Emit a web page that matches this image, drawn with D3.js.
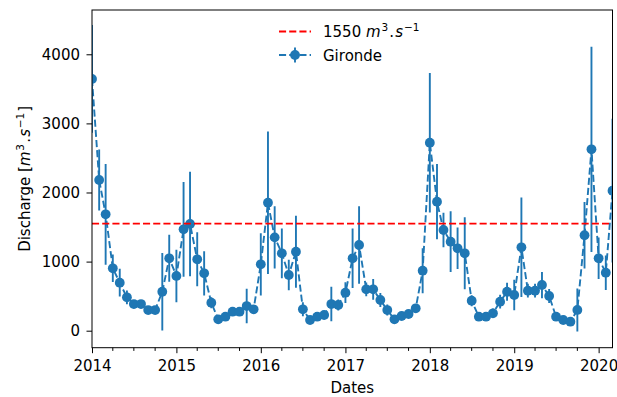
<!DOCTYPE html>
<html>
<head>
<meta charset="utf-8">
<script src="https://cdn.jsdelivr.net/npm/d3@7"></script>
<style>
  body { margin: 0; background: #fff; }
  text { font-family: "DejaVu Sans", sans-serif; fill: #000; }
</style>
</head>
<body>
<svg id="chart" width="617" height="397"></svg>
<script>
// Monthly mean discharge of the Gironde (m3/s) with its standard deviation,
// one value per month from January 2014 to March 2020.
const firstMonth = Date.UTC(2014, 0, 1);
const lastMonth = Date.UTC(2020, 2, 1);

const discharge = [
  3643, 2181, 1684, 903, 695, 483, 386, 386, 299, 299, 564, 1048,   // 2014
  792, 1467, 1544, 1033, 831, 405, 165, 203, 275, 275, 357, 310,    // 2015
  961, 1852, 1351, 1120, 806, 1143, 310, 155, 203, 227, 386, 372,   // 2016
  550, 1048, 1240, 599, 599, 444, 299, 165, 213, 242, 324, 868,     // 2017
  2721, 1867, 1457, 1288, 1192, 1120, 434, 203, 203, 252, 420, 564, // 2018
  517, 1207, 579, 579, 661, 502, 203, 155, 130, 300, 1381, 2625,    // 2019
  1048, 839, 2026                                                   // 2020
];

const spread = [
  780, 440, 730, 200, 200, 100, 60, 60, 50, 50, 560, 340,
  380, 685, 755, 390, 320, 80, 30, 30, 40, 50, 250, 40,
  450, 1030, 450, 360, 220, 520, 100, 50, 50, 60, 250, 80,
  150, 430, 560, 100, 150, 100, 80, 40, 40, 40, 60, 325,
  1010, 545, 250, 440, 300, 520, 80, 40, 40, 70, 100, 130,
  220, 720, 100, 100, 190, 100, 40, 40, 40, 310, 480, 1485,
  300, 250, 1040
];

const threshold = 1550;
const yTickValues = [0, 1000, 2000, 3000, 4000];
const yearTicks = [2014, 2015, 2016, 2017, 2018, 2019, 2020];

const months = d3.utcMonth.range(firstMonth, lastMonth + 1);
const series = months.map((d, i) => ({ date: d, value: discharge[i], err: spread[i] }));

const blue = "#1f77b4";
const red = "#ff0000";
const fontSize = 15;
const plot = { left: 92, right: 612.5, top: 10, bottom: 347.7 };

const svg = d3.select("#chart");

const x = d3.scaleUtc()
  .domain([new Date(firstMonth), new Date(lastMonth)])
  .range([plot.left, plot.right]);

const y = d3.scaleLinear()
  .domain([-246, 4641])
  .range([plot.bottom, plot.top]);

svg.append("defs").append("clipPath").attr("id", "plot-area")
  .append("rect")
  .attr("x", plot.left).attr("y", plot.top)
  .attr("width", plot.right - plot.left).attr("height", plot.bottom - plot.top);

const body = svg.append("g").attr("clip-path", "url(#plot-area)");

// error bars
body.append("g").selectAll("line").data(series).join("line")
  .attr("x1", d => x(d.date)).attr("x2", d => x(d.date))
  .attr("y1", d => y(d.value - d.err)).attr("y2", d => y(d.value + d.err))
  .attr("stroke", blue).attr("stroke-width", 1.9);

// dashed connecting line
body.append("path").datum(series)
  .attr("d", d3.line().x(d => x(d.date)).y(d => y(d.value)))
  .attr("fill", "none").attr("stroke", blue).attr("stroke-width", 1.9)
  .attr("stroke-dasharray", "7.1,3.1");

// markers
body.append("g").selectAll("circle").data(series).join("circle")
  .attr("cx", d => x(d.date)).attr("cy", d => y(d.value))
  .attr("r", 4.9).attr("fill", blue);

// reference discharge
body.append("line")
  .attr("x1", plot.left).attr("x2", plot.right)
  .attr("y1", y(threshold)).attr("y2", y(threshold))
  .attr("stroke", red).attr("stroke-width", 1.9).attr("stroke-dasharray", "7.1,3.1");

// frame
svg.append("rect")
  .attr("x", plot.left).attr("y", plot.top)
  .attr("width", plot.right - plot.left).attr("height", plot.bottom - plot.top)
  .attr("fill", "none").attr("stroke", "#000").attr("stroke-width", 1);

// x axis: years with quarterly minor ticks
const xAxis = svg.append("g").attr("transform", `translate(0,${plot.bottom})`);
xAxis.call(d3.axisBottom(x)
    .tickValues(yearTicks.map(yr => new Date(Date.UTC(yr, 0, 1))))
    .tickFormat(d3.utcFormat("%Y"))
    .tickSize(5.5).tickPadding(7))
  .call(g => g.select(".domain").remove());
xAxis.selectAll("text").attr("font-size", fontSize).attr("font-family", "DejaVu Sans").attr("fill", "#000");
xAxis.selectAll("line").attr("stroke", "#000");
xAxis.append("g").selectAll("line")
  .data(d3.utcMonth.every(3).range(new Date(firstMonth), new Date(lastMonth + 1)).filter(d => d.getUTCMonth() !== 0))
  .join("line")
  .attr("x1", d => x(d)).attr("x2", d => x(d))
  .attr("y1", 0).attr("y2", 3.2).attr("stroke", "#000");

// y axis
const yAxis = svg.append("g").attr("transform", `translate(${plot.left},0)`);
yAxis.call(d3.axisLeft(y).tickValues(yTickValues).tickFormat(d3.format("d")).tickSize(5.5).tickPadding(6.5))
  .call(g => g.select(".domain").remove());
yAxis.selectAll("text").attr("font-size", fontSize).attr("font-family", "DejaVu Sans").attr("fill", "#000");
yAxis.selectAll("line").attr("stroke", "#000");

// axis titles
svg.append("text")
  .attr("x", (plot.left + plot.right) / 2).attr("y", 393)
  .attr("text-anchor", "middle").attr("font-size", fontSize).text("Dates");

// unit written as italic m^3 . s^-1 with raised exponents
function unitText(sel, prefix, suffix) {
  sel.append("tspan").text(prefix);
  sel.append("tspan").attr("font-style", "italic").text("m");
  sel.append("tspan").attr("font-size", 10.5).attr("dx", 0.8).attr("dy", -6).text("3");
  sel.append("tspan").attr("dx", 1.2).attr("dy", 6).text(".");
  sel.append("tspan").attr("dx", 1.2).attr("font-style", "italic").text("s");
  sel.append("tspan").attr("font-size", 10.5).attr("dx", 0.8).attr("dy", -6).text("\u22121");
  if (suffix) sel.append("tspan").attr("dx", 1).attr("dy", 6).text(suffix);
}

const yTitle = svg.append("text")
  .attr("transform", `translate(30,${(plot.top + plot.bottom) / 2}) rotate(-90)`)
  .attr("text-anchor", "middle").attr("font-size", fontSize);
unitText(yTitle, "Discharge [", "]");

// legend
const legend = svg.append("g");
legend.append("line")
  .attr("x1", 279).attr("x2", 311).attr("y1", 31.5).attr("y2", 31.5)
  .attr("stroke", red).attr("stroke-width", 1.9).attr("stroke-dasharray", "7.1,3.1");
const l1 = legend.append("text").attr("x", 323).attr("y", 36.7).attr("font-size", fontSize);
unitText(l1, threshold + " ", "");

legend.append("line")
  .attr("x1", 279).attr("x2", 311).attr("y1", 55).attr("y2", 55)
  .attr("stroke", blue).attr("stroke-width", 1.9).attr("stroke-dasharray", "7.1,3.1");
legend.append("line")
  .attr("x1", 295).attr("x2", 295).attr("y1", 47.5).attr("y2", 62.5)
  .attr("stroke", blue).attr("stroke-width", 1.9);
legend.append("circle").attr("cx", 295).attr("cy", 55).attr("r", 4.9).attr("fill", blue);
legend.append("text").attr("x", 323).attr("y", 60.7).attr("font-size", fontSize).text("Gironde");
</script>
</body>
</html>
